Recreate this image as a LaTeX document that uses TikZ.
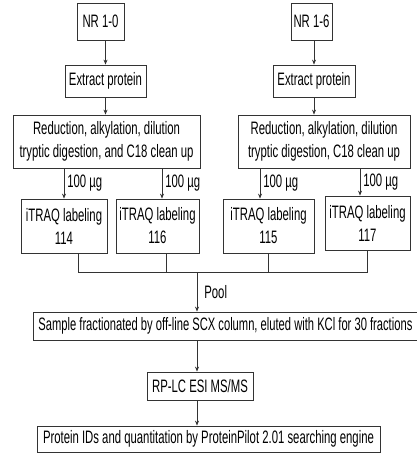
\documentclass[tikz,border=0pt]{standalone}
\usepackage{fontspec}
\setmainfont{Liberation Sans}[FakeStretch=0.63]
\usetikzlibrary{arrows.meta,positioning,calc}
\tikzset{
  >={Stealth[length=5pt,width=4pt]},
  % boxes and arrows
  pb/.style={draw=black!80,line width=0.8pt,fill=white,inner sep=0pt,
             align=center,font=\fontsize{18}{23}\selectfont},
  pa/.style={->,draw=black!80,line width=0.7pt},
  pj/.style={draw=black!80,line width=0.7pt},
  pl/.style={font=\fontsize{18}{20}\selectfont,inner sep=3pt},
}
\begin{document}
\begin{tikzpicture}[x=1pt,y=-1pt]
\useasboundingbox (0,0) rectangle (416,457);
  % samples
  \node[pb,minimum width=47,minimum height=37] (nr0) at (100.5,21.5) {NR 1-0};
  \node[pb,minimum width=41,minimum height=37] (nr6) at (311.5,21.5) {NR 1-6};
  \node[pb,minimum width=81,minimum height=32] (ext0) at (105.5,81) {Extract protein};
  \node[pb,minimum width=82,minimum height=32] (ext6) at (314,81) {Extract protein};
  \node[pb,minimum width=187,minimum height=53] (red0) at (106.5,141.5)
    {Reduction, alkylation, dilution\\tryptic digestion, and C18 clean up};
  \node[pb,minimum width=172,minimum height=53] (red6) at (324,141.5)
    {Reduction, alkylation, dilution\\tryptic digestion, C18 clean up};
  % iTRAQ
  \node[pb,minimum width=86,minimum height=54] (it114) at (64,226) {iTRAQ labeling\\114};
  \node[pb,minimum width=83,minimum height=54] (it116) at (157.5,226) {iTRAQ labeling\\116};
  \node[pb,minimum width=91,minimum height=54] (it115) at (268.5,226) {iTRAQ labeling\\115};
  \node[pb,minimum width=85,minimum height=54] (it117) at (367.5,223) {iTRAQ labeling\\117};
  % arrow and pool points
  \coordinate (in114) at (it114.north);
  \coordinate (in116) at ($(it116.north)+(4.5,0)$);
  \coordinate (in115) at ($(it115.north)+(-8.5,0)$);
  \coordinate (in117) at ($(it117.north)+(-7.5,0)$);
  \coordinate (out114) at ($(it114.south)+(14,0)$);
  \coordinate (out116) at ($(it116.south)+(8.5,0)$);
  \coordinate (pool) at (197,272);
  % after pooling
  \node[pb,anchor=west,minimum height=28,inner xsep=5pt] (scx) at (33,326)
    {\makebox[392pt][l]{\resizebox{374pt}{\height}{Sample fractionated by off-line
     SCX column, eluted with KCl for 30 fractions}}};
  \node[pb,minimum width=106,minimum height=28] (rplc) at (200,386) {RP-LC ESI MS/MS};
  \node[pb,minimum width=343,minimum height=26] (pid) at (208.5,439)
    {Protein IDs and quantitation by ProteinPilot 2.01 searching engine};
  \draw[pa] (ext0.north |- nr0.south) -- (ext0.north);
  \draw[pa] (nr6.south -| ext6.north) -- (ext6.north);
  \draw[pa] (ext0.south) -- (ext0.south |- red0.north);
  \draw[pa] (ext6.south) -- (ext6.south |- red6.north);
  \draw[pa] (red0.south -| in114) -- node[pl,right] {100 µg} (in114);
  \draw[pa] (red0.south -| in116) -- node[pl,right] {100 µg} (in116);
  \draw[pa] (red6.south -| in115) -- node[pl,right] {100 µg} (in115);
  \draw[pa] (red6.south -| in117) -- node[pl,right] {100 µg} (in117);
  \draw[pj] (out114) -- (out114 |- pool) -- (it117.south |- pool) -- (it117.south);
  \draw[pj] (out116) -- (out116 |- pool);
  \draw[pj] (it115.south) -- (it115.south |- pool);
  \draw[pa] (pool) -- node[pl,right=4pt] {Pool} (pool |- scx.north);
  \draw[pa] (scx.south -| pool) -- (rplc.north -| pool);
  \draw[pa] (rplc.south -| pool) -- (pid.north -| pool);
\end{tikzpicture}
\end{document}
